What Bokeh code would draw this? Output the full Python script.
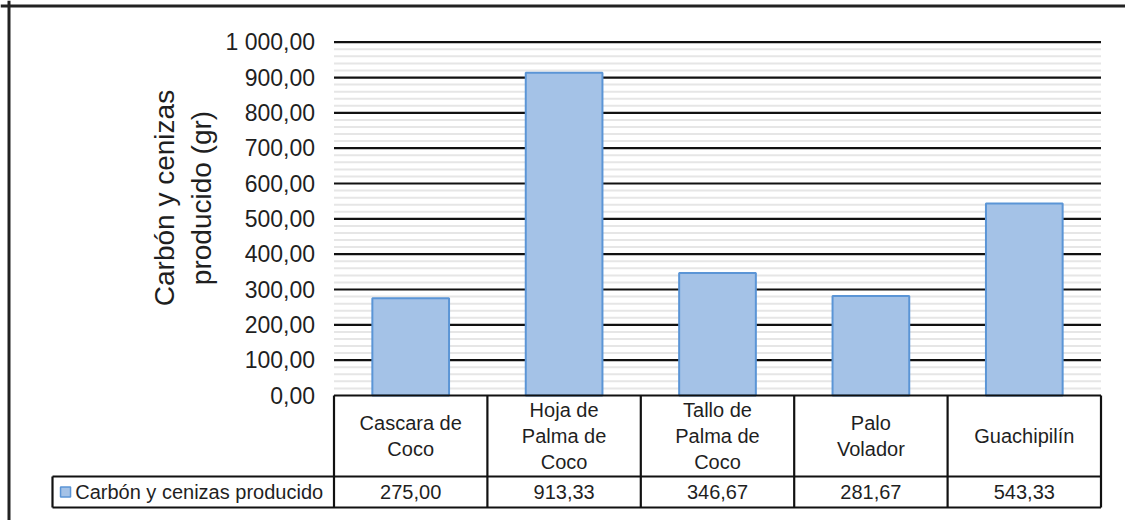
import numpy as np
from bokeh.plotting import figure
from bokeh.models import LinearAxis, FixedTicker, Range1d, Span
from bokeh.core.properties import value
from bokeh.embed import file_html
from bokeh.resources import INLINE

# ---------------- data ----------------
categories = ["Cascara de\nCoco", "Hoja de\nPalma de\nCoco", "Tallo de\nPalma de\nCoco",
              "Palo\nVolador", "Guachipilín"]
values = [275.00, 913.33, 346.67, 281.67, 543.33]
value_labels = ["275,00", "913,33", "346,67", "281,67", "543,33"]
series_name = "Carbón y cenizas producido"
y_ticks = [0, 100, 200, 300, 400, 500, 600, 700, 800, 900, 1000]
y_tick_labels = ["0,00", "100,00", "200,00", "300,00", "400,00", "500,00",
                 "600,00", "700,00", "800,00", "900,00", "1 000,00"]
y_minor_step = 20
y_title = "Carbón y cenizas\nproducido (gr)"

# ---------------- layout / style ----------------
FONT = "Liberation Sans"
TXT = "#1f1f1f"
BAR_FILL = "#A4C2E7"
BAR_LINE = "#5B95D6"
W, H = 1125, 520
px_per_unit = 0.3533          # vertical pixels per data unit
col_w = 153.4                  # pixels per category column
left_px = 333.5                # plot-area left edge from figure left
zero_px = 395.0                # zero line from figure top
n = len(categories)

x_start = -left_px / col_w
x_end = (W - left_px) / col_w
y_end = zero_px / px_per_unit
y_start = -(H - zero_px) / px_per_unit

row1_b = -81.0 / px_per_unit      # bottom of category row
row2_b = -112.0 / px_per_unit     # bottom of value row
legend_left = (52 - left_px) / col_w

p = figure(width=W, height=H, output_backend="svg", toolbar_location=None,
           x_range=Range1d(x_start, x_end), y_range=Range1d(y_start, y_end),
           min_border=0, min_border_left=0, min_border_right=0,
           min_border_top=0, min_border_bottom=0,
           x_axis_type=None, y_axis_type=None)
p.grid.visible = False
p.outline_line_color = None
p.background_fill_color = "white"
p.border_fill_color = "white"

# ---------------- gridlines ----------------
major = [t for t in y_ticks if t != 0]
minor = [v for v in np.arange(0, y_ticks[-1] + 1, y_minor_step) if v % 100 != 0]
p.segment(x0=[0] * len(minor), x1=[n] * len(minor), y0=minor, y1=minor,
          line_color="#E6E6E6", line_width=2)
p.segment(x0=[0] * len(major), x1=[n] * len(major), y0=major, y1=major,
          line_color="#111111", line_width=2.2)

# ---------------- bars ----------------
centers = [i + 0.5 for i in range(n)]
p.vbar(x=centers, top=values, bottom=0, width=0.5,
       fill_color=BAR_FILL, line_color=BAR_LINE, line_width=2)

# ---------------- y axis ----------------
yaxis = LinearAxis(fixed_location=0, bounds=(0, 1200),
                   ticker=FixedTicker(ticks=y_ticks, minor_ticks=[]),
                   major_label_overrides={t: l for t, l in zip(y_ticks, y_tick_labels)})
yaxis.axis_line_color = None
yaxis.major_tick_line_color = None
yaxis.minor_tick_line_color = None
yaxis.major_tick_out = 0
yaxis.major_tick_in = 0
yaxis.major_label_standoff = 19
yaxis.major_label_text_font = FONT
yaxis.major_label_text_font_size = "23px"
yaxis.major_label_text_color = TXT
yaxis.axis_label = y_title
yaxis.axis_label_text_font = FONT
yaxis.axis_label_text_font_size = "28px"
yaxis.axis_label_text_font_style = "normal"
yaxis.axis_label_text_color = TXT
yaxis.axis_label_standoff = 6
p.add_layout(yaxis, "left")

# ---------------- data table ----------------
p.segment(x0=[0, legend_left, legend_left], x1=[n, n, n],
          y0=[0, row1_b, row2_b], y1=[0, row1_b, row2_b],
          line_color="#111111", line_width=2.2)
vx = list(range(n + 1))
p.segment(x0=vx, x1=vx, y0=[0] * len(vx), y1=[row2_b] * len(vx),
          line_color="#111111", line_width=2.2)
p.segment(x0=[legend_left], x1=[legend_left], y0=[row1_b], y1=[row2_b],
          line_color="#111111", line_width=2.2)

p.text(x=centers, y=[row1_b / 2] * n, text=categories,
       text_align="center", text_baseline="middle",
       text_font=value(FONT), text_font_size="20px", text_color=TXT,
       text_line_height=1.2)
row2_mid = (row1_b + row2_b) / 2
p.text(x=centers, y=[row2_mid] * n, text=value_labels,
       text_align="center", text_baseline="middle",
       text_font=value(FONT), text_font_size="20px", text_color=TXT)

# legend key inside table
p.scatter(x=[legend_left + 0.085], y=[row2_mid], marker="square", size=10,
          fill_color=BAR_FILL, line_color=BAR_LINE, line_width=1.5)
p.text(x=[legend_left + 0.148], y=[row2_mid], text=[series_name],
       text_align="left", text_baseline="middle",
       text_font=value(FONT), text_font_size="20px", text_color=TXT)

# outer chart border (left and top edges)
p.add_layout(Span(location=(8.5 - left_px) / col_w, dimension="height",
                  line_color="#222222", line_width=3))
p.add_layout(Span(location=(zero_px - 5.5) / px_per_unit, dimension="width",
                  line_color="#222222", line_width=3))

open("out.html", "w").write(file_html(p, INLINE))
